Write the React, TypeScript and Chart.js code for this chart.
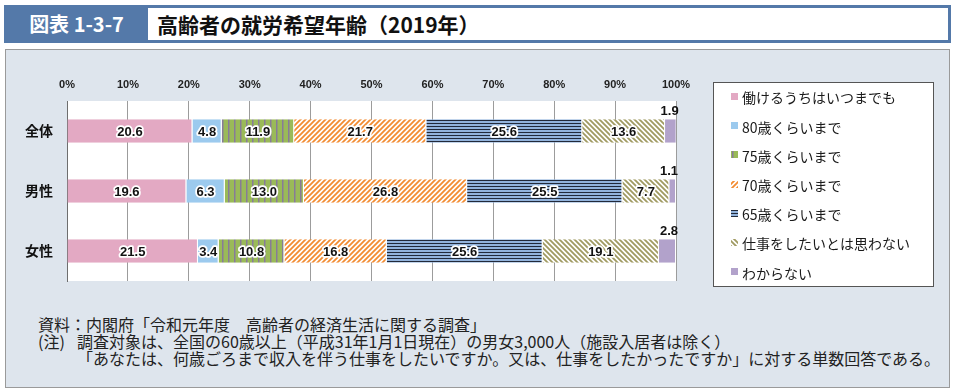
import React, { useEffect, useRef } from 'react';
import { Chart, registerables } from 'chart.js';

Chart.register(...registerables);

const categories = ['全体', '男性', '女性'];
const seriesLabels = [
  '働けるうちはいつまでも',
  '80歳くらいまで',
  '75歳くらいまで',
  '70歳くらいまで',
  '65歳くらいまで',
  '仕事をしたいとは思わない',
  'わからない',
];
const anytime = [20.6, 19.6, 21.5];
const until80 = [4.8, 6.3, 3.4];
const until75 = [11.9, 13.0, 10.8];
const until70 = [21.7, 26.8, 16.8];
const until65 = [25.6, 25.5, 25.6];
const noWork = [13.6, 7.7, 19.1];
const unknown = [1.9, 1.1, 2.8];
const xTickValues = [0, 10, 20, 30, 40, 50, 60, 70, 80, 90, 100];

const JP = '"Noto Sans CJK JP", "Noto Sans", sans-serif';
const NUM = '"Liberation Sans", Arial, sans-serif';

function makePattern(w: number, h: number, draw: (g: CanvasRenderingContext2D) => void) {
  const c = document.createElement('canvas');
  c.width = w;
  c.height = h;
  const g = c.getContext('2d')!;
  draw(g);
  return g.createPattern(c, 'repeat')!;
}

function buildFills() {
  const pink = '#e3a9c3';
  const lightBlue = '#9ccaee';
  const green = makePattern(6, 6, (g) => {
    g.fillStyle = '#9aba58';
    g.fillRect(0, 0, 6, 6);
    g.fillStyle = '#877c98';
    g.fillRect(0, 0, 1.5, 6);
  });
  const orange = makePattern(5, 5, (g) => {
    g.fillStyle = '#ffffff';
    g.fillRect(0, 0, 5, 5);
    g.strokeStyle = '#f28c32';
    g.lineWidth = 1.8;
    g.beginPath();
    g.moveTo(-1, 6);
    g.lineTo(6, -1);
    g.moveTo(-1, 1);
    g.lineTo(1, -1);
    g.moveTo(4, 6);
    g.lineTo(6, 4);
    g.stroke();
  });
  const blueLines = makePattern(3, 3, (g) => {
    g.fillStyle = '#92b3dc';
    g.fillRect(0, 0, 3, 3);
    g.fillStyle = '#222a3a';
    g.fillRect(0, 0, 3, 1);
  });
  const olive = makePattern(5, 5, (g) => {
    g.fillStyle = '#ffffff';
    g.fillRect(0, 0, 5, 5);
    g.strokeStyle = '#a09a62';
    g.lineWidth = 1.8;
    g.beginPath();
    g.moveTo(-1, -1);
    g.lineTo(6, 6);
    g.moveTo(4, -1);
    g.lineTo(6, 1);
    g.moveTo(-1, 4);
    g.lineTo(1, 6);
    g.stroke();
  });
  const purple = '#b2a2cb';
  return [pink, lightBlue, green, orange, blueLines, olive, purple];
}

const plotBgPlugin = {
  id: 'plotBg',
  beforeDraw(chart: any) {
    const { ctx, chartArea } = chart;
    ctx.save();
    ctx.fillStyle = '#ffffff';
    ctx.fillRect(chartArea.left, chartArea.top, chartArea.right - chartArea.left, chartArea.bottom - chartArea.top);
    ctx.restore();
  },
};

const valueLabelPlugin = {
  id: 'valueLabels',
  afterDatasetsDraw(chart: any) {
    const { ctx } = chart;
    const n = chart.data.datasets.length;
    ctx.save();
    ctx.font = `bold 13px ${NUM}`;
    ctx.lineJoin = 'round';
    chart.data.datasets.forEach((ds: any, di: number) => {
      const meta = chart.getDatasetMeta(di);
      meta.data.forEach((el: any, i: number) => {
        const v = ds.data[i];
        const txt = v.toFixed(1);
        let x: number;
        let y: number;
        if (di === n - 1) {
          ctx.textAlign = 'right';
          ctx.textBaseline = 'alphabetic';
          x = el.x + 2;
          y = el.y - el.height / 2 - 4;
          ctx.fillStyle = '#111';
          ctx.fillText(txt, x, y);
        } else {
          ctx.textAlign = 'center';
          ctx.textBaseline = 'middle';
          x = (el.x + el.base) / 2;
          y = el.y + 1;
          ctx.strokeStyle = '#ffffff';
          ctx.lineWidth = 3.5;
          ctx.strokeText(txt, x, y);
          ctx.fillStyle = '#111';
          ctx.fillText(txt, x, y);
        }
      });
    });
    ctx.restore();
  },
};

const boxLegendPlugin = {
  id: 'boxLegend',
  afterDraw(chart: any) {
    const { ctx } = chart;
    ctx.save();
    const bx = 713.5;
    const by = 82.5;
    const bw = 220;
    const bh = 204;
    ctx.fillStyle = '#ffffff';
    ctx.fillRect(bx, by, bw, bh);
    ctx.strokeStyle = '#555555';
    ctx.lineWidth = 1;
    ctx.strokeRect(bx, by, bw, bh);
    ctx.font = `14px ${JP}`;
    ctx.textBaseline = 'middle';
    ctx.textAlign = 'left';
    chart.data.datasets.forEach((ds: any, i: number) => {
      const y = 97 + i * 29.2;
      ctx.fillStyle = ds.backgroundColor;
      ctx.fillRect(731, Math.round(y - 4), 7, 7);
      ctx.fillStyle = '#1a1a1a';
      ctx.fillText(ds.label, 742, y + 1);
    });
    ctx.restore();
  },
};

function ChartPanel() {
  const ref = useRef<HTMLCanvasElement | null>(null);
  useEffect(() => {
    const canvas = ref.current;
    if (!canvas) return;
    const fills = buildFills();
    const series = [anytime, until80, until75, until70, until65, noWork, unknown];
    const chart = new Chart(canvas, {
      type: 'bar',
      data: {
        labels: categories,
        datasets: series.map((d, i) => ({
          label: seriesLabels[i],
          data: d,
          backgroundColor: fills[i] as any,
          borderColor: '#ffffff',
          borderWidth: { left: 0, top: 0, bottom: 0, right: 1 } as any,
          borderSkipped: false as any,
          categoryPercentage: 1,
          barPercentage: 0.39,
        })),
      },
      options: {
        indexAxis: 'y',
        animation: false,
        responsive: true,
        maintainAspectRatio: false,
        layout: { padding: { left: 0, top: 0, right: 280, bottom: 109 } },
        plugins: {
          legend: { display: false },
          tooltip: { enabled: false },
          title: { display: false },
        },
        scales: {
          x: {
            position: 'top',
            stacked: true,
            min: 0,
            max: 100,
            afterBuildTicks: (scale: any) => {
              scale.ticks = xTickValues.map((v) => ({ value: v }));
            },
            afterFit: (scale: any) => {
              scale.height = 101;
            },
            grid: { color: '#9c9c9c', lineWidth: 1, drawTicks: false },
            border: { display: false },
            ticks: {
              padding: 9,
              color: '#222',
              font: { family: NUM, size: 11, weight: 'bold' },
              callback: (v: any) => `${v}%`,
            },
          },
          y: {
            stacked: true,
            afterFit: (scale: any) => {
              scale.width = 67;
            },
            grid: { display: false, drawTicks: false },
            border: { display: true, color: '#6e6e6e', width: 1 },
            ticks: {
              padding: 14,
              color: '#111',
              font: { family: JP, size: 14, weight: 'bold' },
            },
          },
        },
      },
      plugins: [plotBgPlugin, valueLabelPlugin, boxLegendPlugin],
    } as any);
    return () => chart.destroy();
  }, []);
  return (
    <div style={{ position: 'absolute', left: 0, top: 0, width: 956, height: 390 }}>
      <canvas ref={ref} />
    </div>
  );
}

export default function App() {
  useEffect(() => {
    document.body.style.margin = '0';
  }, []);
  const noteStyle: React.CSSProperties = {
    position: 'absolute',
    fontFamily: JP,
    fontSize: 16,
    color: '#222',
    whiteSpace: 'nowrap',
    lineHeight: '18px',
  };
  return (
    <div style={{ position: 'fixed', left: 0, top: 0, width: 956, height: 390, background: '#ffffff', overflow: 'hidden' }}>
      {/* header */}
      <div
        style={{
          position: 'absolute',
          left: 4,
          top: 5,
          width: 941,
          height: 32,
          border: '3px solid #5479a9',
          background: '#ffffff',
        }}
      />
      <div
        style={{
          position: 'absolute',
          left: 5,
          top: 6,
          width: 143,
          height: 36,
          background: '#5479a9',
          color: '#ffffff',
          fontFamily: JP,
          fontWeight: 700,
          fontSize: 20,
          lineHeight: '36px',
          textAlign: 'center',
        }}
      >
        図表 1-3-7
      </div>
      <div
        style={{
          position: 'absolute',
          left: 157,
          top: 6,
          height: 36,
          lineHeight: '36px',
          color: '#111',
          fontFamily: JP,
          fontWeight: 700,
          fontSize: 21,
          whiteSpace: 'nowrap',
        }}
      >
        高齢者の就労希望年齢（2019年）
      </div>
      {/* panel */}
      <div
        style={{
          position: 'absolute',
          left: 5,
          top: 49,
          width: 943,
          height: 337,
          border: '1px solid #9a9a9a',
          background: '#dee5ed',
        }}
      />
      <div style={{ ...noteStyle, left: 38, top: 315 }}>資料：内閣府「令和元年度　高齢者の経済生活に関する調査」</div>
      <div style={{ ...noteStyle, left: 38, top: 332 }}>(注)</div>
      <div style={{ ...noteStyle, left: 77, top: 332 }}>
        調査対象は、全国の60歳以上（平成31年1月1日現在）の男女3,000人（施設入居者は除く）
      </div>
      <div style={{ ...noteStyle, left: 77, top: 349 }}>
        「あなたは、何歳ごろまで収入を伴う仕事をしたいですか。又は、仕事をしたかったですか」に対する単数回答である。
      </div>
      <ChartPanel />
    </div>
  );
}
